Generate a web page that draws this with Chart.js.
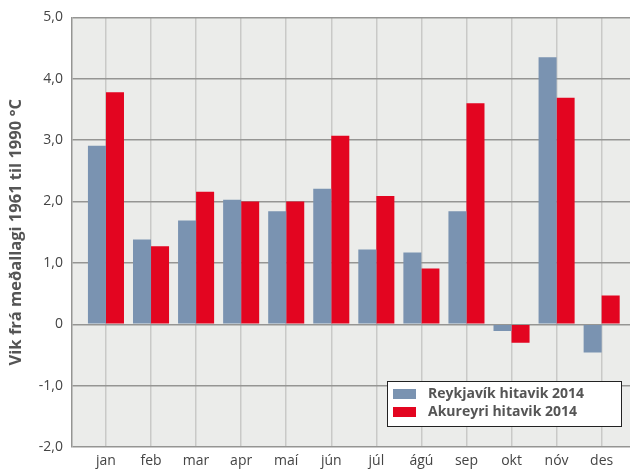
<!DOCTYPE html>
<html>
<head>
<meta charset="utf-8">
<script src="https://cdn.jsdelivr.net/npm/chart.js@4"></script>
<style>
  html, body { margin: 0; padding: 0; background: #fff; }
  #wrap { width: 630px; height: 469px; }
</style>
</head>
<body>
<div id="wrap"><canvas id="myChart"></canvas></div>
<script>
const months = ['jan', 'feb', 'mar', 'apr', 'maí', 'jún', 'júl', 'ágú', 'sep', 'okt', 'nóv', 'des'];
const reykjavik = [2.91, 1.38, 1.69, 2.03, 1.84, 2.21, 1.22, 1.17, 1.84, -0.11, 4.35, -0.46];
const akureyri = [3.78, 1.27, 2.16, 2.0, 2.0, 3.07, 2.09, 0.91, 3.6, -0.3, 3.69, 0.47];
const yTicks = [-2, -1, 0, 1, 2, 3, 4, 5];

// the original has a bit more empty room left of jan than right of des
const xStart = -0.755;
const xEnd = 11.629;

const ctx = document.getElementById('myChart');

// grey plot background
const plotBg = {
    id: 'plotBg',
    afterLayout(chart) {
        const x = chart.scales.x;
        x._startValue = xStart;
        x._valueRange = xEnd - xStart;
    },
    beforeDraw(chart) {
        const a = chart.chartArea;
        const c = chart.ctx;
        c.save();
        c.fillStyle = '#ebecea';
        c.fillRect(a.left, a.top, a.right - a.left, a.bottom - a.top);
        c.restore();
    }
};

// legend box drawn inside the plot, bottom right
const boxLegend = {
    id: 'boxLegend',
    afterDraw(chart) {
        const c = chart.ctx;
        const a = chart.chartArea;
        const w = 234, h = 45;
        const x = a.right - w - 9, y = 381;
        c.save();
        c.fillStyle = '#fff';
        c.fillRect(x, y, w, h);
        c.strokeStyle = '#222';
        c.lineWidth = 1;
        c.strokeRect(x + 0.5, y + 0.5, w, h);
        c.font = 'bold 14px "Open Sans"';
        c.textBaseline = 'middle';
        chart.data.datasets.forEach(function(ds, i) {
            const rowY = y + 13 + i * 18;
            c.fillStyle = ds.backgroundColor;
            c.fillRect(x + 6, rowY - 5, 23, 10);
            c.fillStyle = '#555';
            c.fillText(ds.label, x + 41, rowY);
        });
        c.restore();
    }
};

var graphData = {
    type: 'bar',
    data: {
        labels: months,
        datasets: [{
            label: 'Reykjavík hitavik 2014',
            data: reykjavik,
            backgroundColor: '#7a93b1',
            categoryPercentage: 0.8,
            barPercentage: 1.0
        }, {
            label: 'Akureyri hitavik 2014',
            data: akureyri,
            backgroundColor: '#e30520',
            categoryPercentage: 0.8,
            barPercentage: 1.0
        }]
    },
    options: {
        responsive: true,
        maintainAspectRatio: false,
        animation: false,
        layout: { padding: { top: 7, right: 0, bottom: 0, left: 2 } },
        plugins: {
            legend: { display: false },
            tooltip: { enabled: false }
        },
        scales: {
            x: {
                afterFit(scale) { scale.height = 22; },
                grid: { offset: false, color: '#c9c9c7', lineWidth: 1.5, drawTicks: false },
                border: { display: false },
                ticks: { color: '#444', font: { family: 'Open Sans', size: 14, lineHeight: 1.0 }, padding: 7 }
            },
            y: {
                min: -2,
                max: 5,
                afterBuildTicks(axis) {
                    axis.ticks = yTicks.map(v => ({ value: v }));
                },
                grid: { color: '#959593', lineWidth: 1.5, drawTicks: false },
                border: { display: true, color: '#959593', width: 1.5 },
                ticks: {
                    color: '#444',
                    font: { family: 'Open Sans', size: 14 },
                    padding: 9,
                    callback: function(v) {
                        return v === 0 ? '0' : v.toFixed(1).replace('.', ',');
                    }
                },
                title: {
                    display: true,
                    text: 'Vik frá meðallagi 1961 til 1990 °C',
                    color: '#555',
                    font: { family: 'Open Sans', size: 16.5, weight: 'bold' },
                    padding: { bottom: 4 }
                }
            }
        }
    },
    plugins: [plotBg, boxLegend]
};

var myChart = new Chart(ctx, graphData);
</script>
</body>
</html>
